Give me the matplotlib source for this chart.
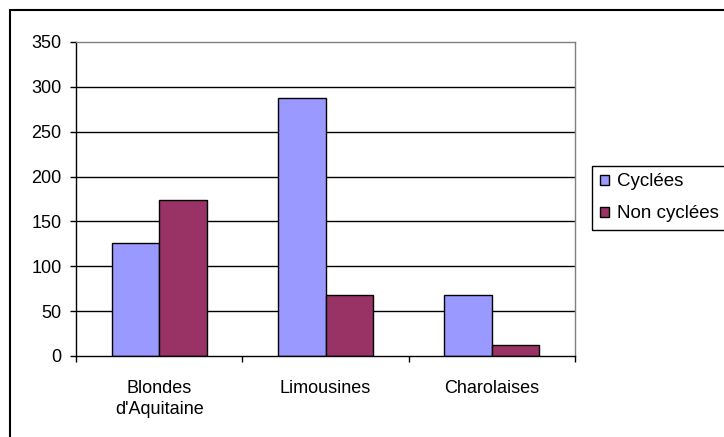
import numpy as np
import matplotlib
matplotlib.use('Agg')
import matplotlib.pyplot as plt
from matplotlib.patches import Rectangle

# Données du graphique
races = ["Blondes\nd'Aquitaine", 'Limousines', 'Charolaises']
cyclees = [126, 288, 68]
non_cyclees = [174, 68, 12]
series_labels = ['Cyclées', 'Non cyclées']
y_ticks = [0, 50, 100, 150, 200, 250, 300, 350]

plt.rcParams['font.family'] = ['Liberation Sans', 'DejaVu Sans']

W, H = 724, 437
fig = plt.figure(figsize=(W / 100, H / 100), dpi=100)
ax = fig.add_axes([76 / W, 1 - 356 / H, (575 - 76) / W, (356 - 42) / H])

x = np.arange(len(races))
largeur = 1 / 3.5  # écart de 150 % façon Excel
ax.bar(x - largeur / 2, cyclees, largeur, color='#9999FF', edgecolor='black',
       linewidth=1, label=series_labels[0], zorder=3)
ax.bar(x + largeur / 2, non_cyclees, largeur, color='#993366', edgecolor='black',
       linewidth=1, label=series_labels[1], zorder=3)

ax.set_xlim(-0.5, len(races) - 0.5)
ax.set_ylim(0, 350)
ax.set_yticks(y_ticks)
ax.tick_params(axis='y', direction='out', length=4.5, width=1, labelsize=13, pad=6)

# graduations entre les catégories, étiquettes au centre
ax.set_xticks(np.arange(-0.5, len(races), 1.0))
ax.set_xticklabels([])
ax.set_xticks(x, minor=True)
ax.set_xticklabels(races, minor=True, fontsize=13, linespacing=1.3)
ax.tick_params(axis='x', which='major', direction='out', length=4.5, width=1)
ax.tick_params(axis='x', which='minor', length=0, pad=17)

# grille horizontale
for v in y_ticks[1:-1]:
    ax.axhline(v, color='black', linewidth=1, zorder=1)

ax.spines['left'].set_color('black')
ax.spines['bottom'].set_color('black')
ax.spines['bottom'].set_zorder(4)
ax.spines['top'].set_color('#808080')
ax.spines['right'].set_color('#808080')
for s in ax.spines.values():
    s.set_linewidth(1)

leg = fig.legend(loc='upper left', bbox_to_anchor=(592 / W, 1 - 166 / H),
                 fontsize=13.5, frameon=True, fancybox=False, framealpha=1,
                 edgecolor='black', handlelength=0.5, handleheight=0.5,
                 handletextpad=0.45, labelspacing=0.8, borderpad=0.4,
                 borderaxespad=0)
leg.get_frame().set_linewidth(1)

# cadre extérieur du graphique
fig.patches.append(Rectangle((10 / W, -0.2), 1.5, 1.2 - 10 / H, transform=fig.transFigure,
                             fill=False, edgecolor='black', linewidth=1.5))

fig.savefig('out.png', dpi=100)
